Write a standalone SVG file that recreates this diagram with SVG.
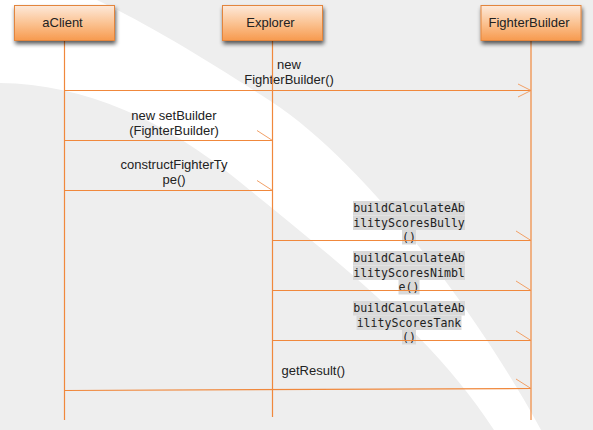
<svg xmlns="http://www.w3.org/2000/svg" width="593" height="430" viewBox="0 0 593 430">
<defs>
<linearGradient id="boxg" x1="0" y1="0" x2="0" y2="1">
<stop offset="0" stop-color="#fde9da"/>
<stop offset="0.5" stop-color="#fbc393"/>
<stop offset="1" stop-color="#f79a4e"/>
</linearGradient>
<filter id="sh" x="-20%" y="-30%" width="140%" height="180%">
<feGaussianBlur in="SourceAlpha" stdDeviation="2"/>
<feOffset dx="1" dy="3" result="b"/>
<feComponentTransfer><feFuncA type="linear" slope="0.65"/></feComponentTransfer>
<feMerge><feMergeNode/><feMergeNode in="SourceGraphic"/></feMerge>
</filter>
<style>
.ll{stroke:#f0883c;stroke-width:1.2;fill:none}
.msg{stroke:#f0883c;stroke-width:1.2;fill:none}
.ah{stroke:#f2a066;stroke-width:1;fill:none}
.box{fill:url(#boxg);stroke:#e3853c;stroke-width:1;filter:url(#sh)}
.lbl{font-family:"Liberation Sans",Arial,sans-serif;font-size:13px;fill:#222}
.mono{font-family:"DejaVu Sans Mono","Liberation Mono",monospace;font-size:11.6px;fill:#222}
.hl{fill:#d9d9d9}
</style>
</defs>
<rect width="593" height="430" fill="#eeeeee"/>
<path d="M0,0 L97,0 C150,25 215,65 272,102 C360,160 470,300 541,430 L494,430 C430,330 320,248 240,182 C165,120 85,84 0,83 Z" fill="#ffffff"/>

<g id="connectors">
<g id="m1">
<text class="lbl" x="289" y="69" text-anchor="middle">new</text>
<text class="lbl" x="289" y="84" text-anchor="middle">FighterBuilder()</text>
<line class="msg" x1="64.5" y1="90.5" x2="531" y2="90.5"/>
<polyline class="ah" points="518,84 531,90.5 518,97"/>
</g>
<g id="m2">
<text class="lbl" x="174" y="119.5" text-anchor="middle">new setBuilder</text>
<text class="lbl" x="174" y="134.5" text-anchor="middle">(FighterBuilder)</text>
<line class="msg" x1="64.5" y1="140.5" x2="272.5" y2="140.5"/>
<line class="ah" x1="257" y1="130.5" x2="272.5" y2="140.5"/>
</g>
<g id="m3">
<text class="lbl" x="174" y="169" text-anchor="middle">constructFighterTy</text>
<text class="lbl" x="174" y="184" text-anchor="middle">pe()</text>
<line class="msg" x1="64.5" y1="190.5" x2="272.5" y2="190.5"/>
<line class="ah" x1="257" y1="180.5" x2="272.5" y2="190.5"/>
</g>
<g id="m4">
<rect class="hl" x="353" y="201" width="112" height="14.5"/>
<rect class="hl" x="353" y="215.5" width="112" height="14.5"/>
<rect class="hl" x="402" y="230" width="14" height="14.5"/>
<text class="mono" x="409" y="212" text-anchor="middle">buildCalculateAb</text>
<text class="mono" x="409" y="226.5" text-anchor="middle">ilityScoresBully</text>
<text class="mono" x="409" y="241" text-anchor="middle">()</text>
<line class="msg" x1="272.5" y1="240.5" x2="531" y2="240.5"/>
<line class="ah" x1="516" y1="231" x2="531" y2="240.5"/>
</g>
<g id="m5">
<rect class="hl" x="353" y="251" width="112" height="14.5"/>
<rect class="hl" x="353" y="265.5" width="112" height="14.5"/>
<rect class="hl" x="398.5" y="280" width="21" height="14.5"/>
<text class="mono" x="409" y="262" text-anchor="middle">buildCalculateAb</text>
<text class="mono" x="409" y="276.5" text-anchor="middle">ilityScoresNimbl</text>
<text class="mono" x="409" y="291" text-anchor="middle">e()</text>
<line class="msg" x1="272.5" y1="290.5" x2="531" y2="290.5"/>
<line class="ah" x1="516" y1="281" x2="531" y2="290.5"/>
</g>
<g id="m6">
<rect class="hl" x="353" y="301" width="112" height="14.5"/>
<rect class="hl" x="356.5" y="315.5" width="105" height="14.5"/>
<rect class="hl" x="402" y="330" width="14" height="14.5"/>
<text class="mono" x="409" y="312" text-anchor="middle">buildCalculateAb</text>
<text class="mono" x="409" y="326.5" text-anchor="middle">ilityScoresTank</text>
<text class="mono" x="409" y="341" text-anchor="middle">()</text>
<line class="msg" x1="272.5" y1="340.5" x2="531" y2="340.5"/>
<line class="ah" x1="516" y1="331" x2="531" y2="340.5"/>
</g>
<g id="m7">
<text class="lbl" x="281.5" y="375">getResult()</text>
<line class="msg" x1="64.5" y1="390.5" x2="531" y2="388.5"/>
<line class="ah" x1="516" y1="379" x2="531" y2="388.5"/>
</g>
</g>

<g id="aClient">
<line class="ll" x1="64.5" y1="40" x2="64.5" y2="420"/>
<rect class="box" x="14.5" y="5.5" width="100" height="35"/>
<text class="lbl" x="62.5" y="26.5" text-anchor="middle">aClient</text>
</g>
<g id="Explorer">
<line class="ll" x1="272.5" y1="40" x2="272.5" y2="417"/>
<rect class="box" x="222.5" y="5.5" width="100" height="35"/>
<text class="lbl" x="270.5" y="26.5" text-anchor="middle">Explorer</text>
</g>
<g id="FighterBuilder">
<line class="ll" x1="531" y1="40" x2="531" y2="420"/>
<rect class="box" x="481" y="5.5" width="100" height="35"/>
<text class="lbl" x="529" y="26.5" text-anchor="middle">FighterBuilder</text>
</g>
</svg>
